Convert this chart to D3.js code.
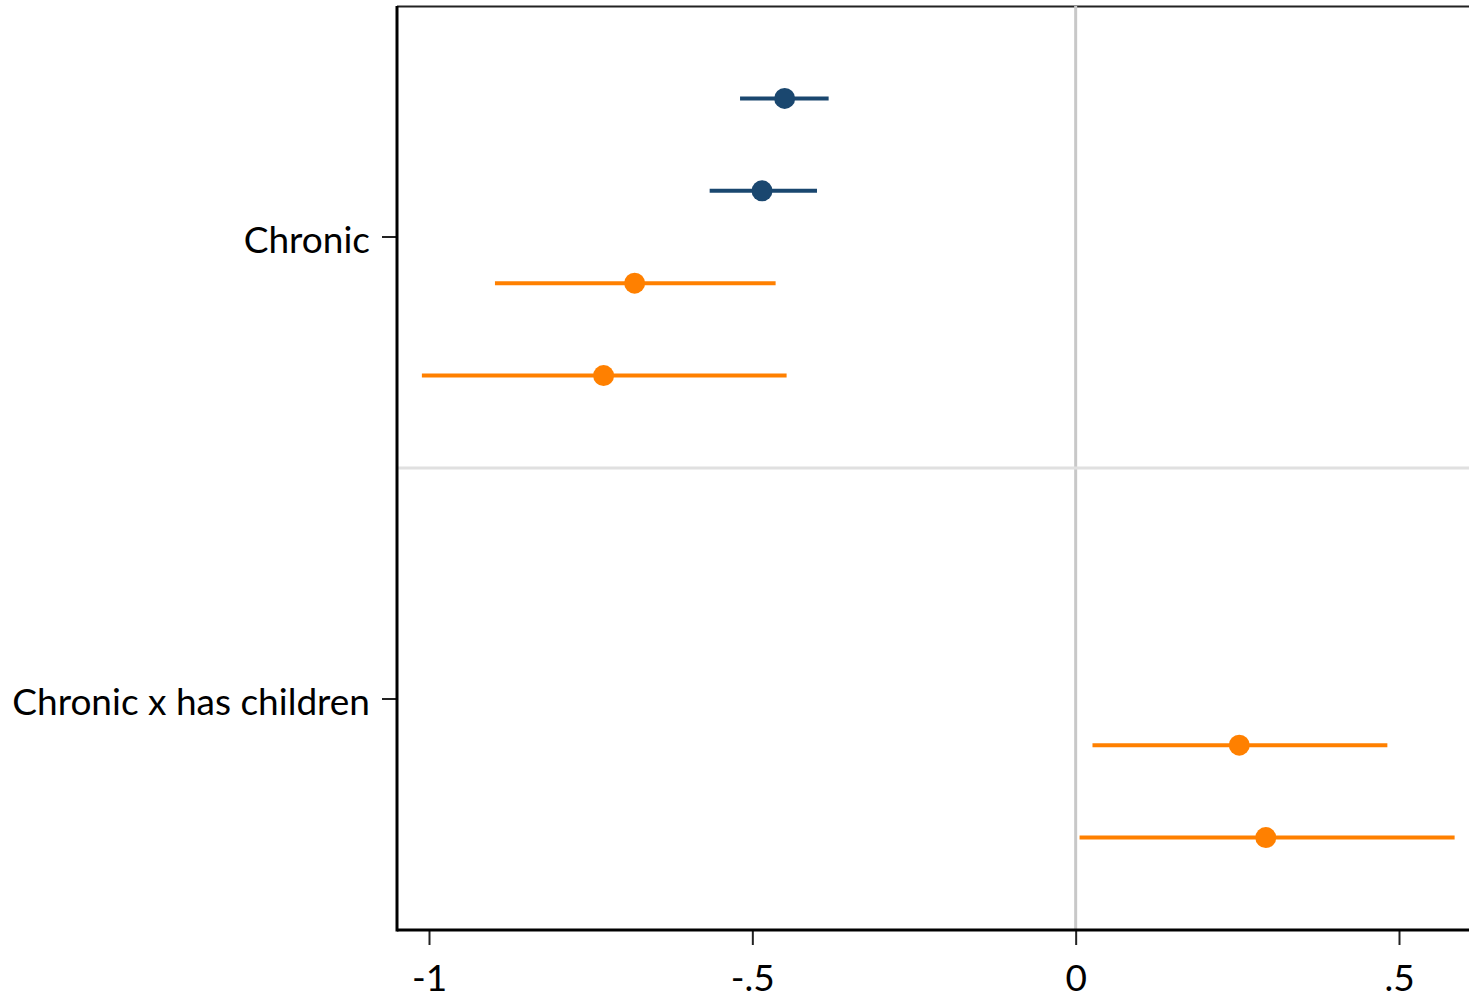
<!DOCTYPE html>
<html>
<head>
<meta charset="utf-8">
<script src="https://cdn.jsdelivr.net/npm/d3@7"></script>
<style>
  html, body { margin: 0; padding: 0; background: #fff; }
  svg { display: block; }
  text { font-family: Lato, "Open Sans", sans-serif; fill: #000; }
</style>
</head>
<body>
<svg id="chart" width="1469" height="999"></svg>
<script>
// Coefficient estimates with 95% confidence intervals
const groups = ["Chronic", "Chronic x has children"];
const rowIndex = [0, 1, 2, 3, 7, 8];          // row slot within the plot
const estimates = [-0.450, -0.485, -0.682, -0.730, 0.253, 0.294];
const ciLow     = [-0.519, -0.566, -0.898, -1.011, 0.026, 0.006];
const ciHigh    = [-0.382, -0.400, -0.464, -0.447, 0.482, 0.586];
const seriesOf  = ["a", "a", "b", "b", "b", "b"];
const groupRows = [[0, 3], [5, 8]];
const xTicks = [-1, -0.5, 0, 0.5];
const xTickLabels = ["-1", "-.5", "0", ".5"];

const colors = { a: "#1a476f", b: "#ff8000" };
const fontSize = "37px";

const svg = d3.select("#chart");
const plotLeft = 397, plotRight = 1478, plotTop = 6, plotBottom = 930;

const x = d3.scaleLinear().domain([-1, 0.5]).range([429, 1399]);
const y = d3.scaleLinear().domain([-1, 9]).range([plotTop, plotBottom]);

// Frame top line
svg.append("line")
  .attr("x1", plotLeft).attr("x2", plotRight)
  .attr("y1", plotTop + 0.5).attr("y2", plotTop + 0.5)
  .attr("stroke", "#222").attr("stroke-width", 2);

// Zero reference line
svg.append("line")
  .attr("x1", x(0)).attr("x2", x(0))
  .attr("y1", plotTop).attr("y2", plotBottom)
  .attr("stroke", "#c8c8c8").attr("stroke-width", 3);

// Group separator
svg.append("line")
  .attr("x1", plotLeft).attr("x2", plotRight)
  .attr("y1", y(4)).attr("y2", y(4))
  .attr("stroke", "#e0e0e0").attr("stroke-width", 3);

const data = estimates.map((v, i) => ({
  est: v, lo: ciLow[i], hi: ciHigh[i], row: rowIndex[i], s: seriesOf[i]
}));

// Confidence interval whiskers
svg.append("g").selectAll("line").data(data).join("line")
  .attr("x1", d => x(d.lo)).attr("x2", d => x(d.hi))
  .attr("y1", d => y(d.row)).attr("y2", d => y(d.row))
  .attr("stroke", d => colors[d.s]).attr("stroke-width", 4);

// Point estimates
svg.append("g").selectAll("circle").data(data).join("circle")
  .attr("cx", d => x(d.est)).attr("cy", d => y(d.row))
  .attr("r", 10.5).attr("fill", d => colors[d.s]);

// X axis
const xAxis = d3.axisBottom(x).tickValues(xTicks)
  .tickFormat((d, i) => xTickLabels[i]).tickSize(15).tickPadding(20);
const gx = svg.append("g").attr("transform", `translate(0,${plotBottom})`).call(xAxis);
gx.select(".domain").remove();
gx.selectAll(".tick line").attr("stroke", "#222").attr("stroke-width", 2);
gx.selectAll(".tick text").style("font-size", fontSize)
  .style("font-family", "Lato, 'Open Sans', sans-serif").attr("fill", "#000");
svg.append("line")
  .attr("x1", plotLeft).attr("x2", plotRight).attr("y1", plotBottom).attr("y2", plotBottom)
  .attr("stroke", "#000").attr("stroke-width", 3);

// Y axis with group labels
const yPos = groupRows.map(r => (r[0] + r[1]) / 2);
const gy = svg.append("g").attr("transform", `translate(${plotLeft},0)`);
gy.selectAll("g").data(groups).join("g")
  .attr("transform", (d, i) => `translate(0,${y(yPos[i])})`)
  .each(function(d) {
    const g = d3.select(this);
    g.append("line").attr("x1", -15).attr("x2", 0)
      .attr("stroke", "#222").attr("stroke-width", 2);
    g.append("text").attr("x", -27).attr("dy", "0.42em")
      .attr("text-anchor", "end").style("font-size", fontSize).text(d);
  });
svg.append("line")
  .attr("x1", plotLeft).attr("x2", plotLeft).attr("y1", plotTop).attr("y2", plotBottom + 1.5)
  .attr("stroke", "#000").attr("stroke-width", 3);
</script>
</body>
</html>
